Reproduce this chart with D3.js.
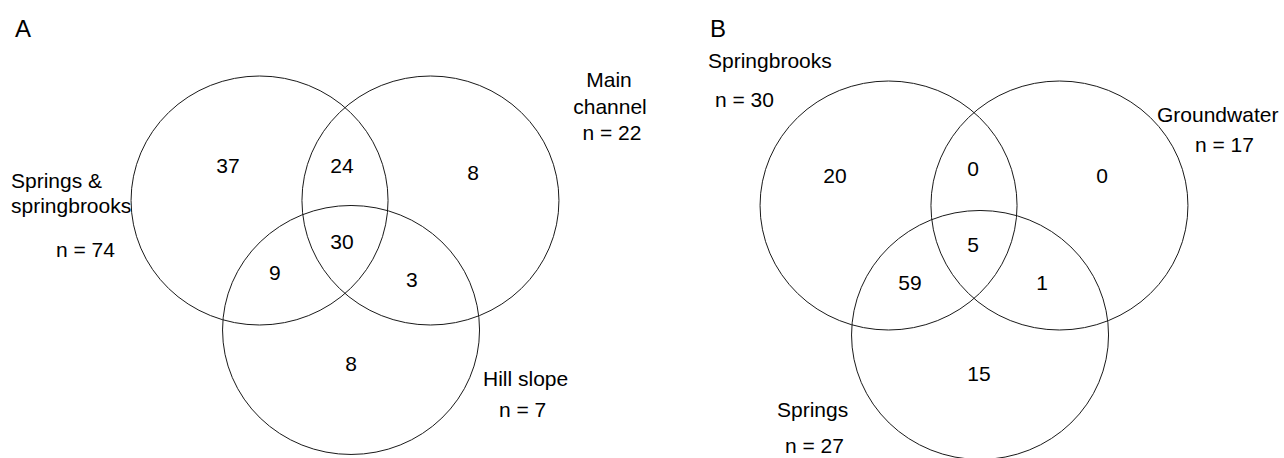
<!DOCTYPE html>
<html>
<head>
<meta charset="utf-8">
<script src="https://cdn.jsdelivr.net/npm/d3@7"></script>
<style>
  html, body { margin: 0; padding: 0; background: #fff; }
  svg { display: block; }
  text { font-family: "Liberation Sans", Arial, sans-serif; fill: #000; }
</style>
</head>
<body>
<svg id="chart" width="1284" height="458"></svg>
<script>
// ---------- data ----------
const panelLetters = ["A", "B"];
// region order: only set1, only set2, only set3, set1&2, set1&3, set2&3, all three
const regionKeys = ["1", "2", "3", "12", "13", "23", "123"];
const countsA = [37, 8, 8, 24, 9, 3, 30];
const countsB = [20, 0, 15, 0, 59, 1, 5];
const setNamesA = [["Springs &", "springbrooks"], ["Main", "channel"], ["Hill slope"]];
const setNamesB = [["Springbrooks"], ["Groundwater"], ["Springs"]];
const setSizesA = [74, 22, 7];
const setSizesB = [30, 17, 27];

// ---------- layout (abstract units, radius = 1) ----------
const circleCenters = [[-0.665, 0], [0.665, 0], [0.047, 1.04]];
const regionPosA = [[-0.911, -0.221], [0.996, -0.165], [0.047, 1.369], [-0.023, -0.221], [-0.545, 0.639], [0.521, 0.695], [-0.023, 0.39]];
const regionPosB = [[-1.082, -0.181], [0.996, -0.181], [0.039, 1.41], [-0.008, -0.237], [-0.498, 0.679], [0.529, 0.679], [-0.008, 0.373]];

const panels = [
  {
    letter: panelLetters[0], letterX: 15,
    cx: 345, cy: 200.5, rx: 128.5, ry: 124.5,
    counts: countsA, regionPos: regionPosA,
    labels: [
      {lines: setNamesA[0], n: setSizesA[0], anchor: "start", xs: [11, 11], ys: [188, 213], nx: 56, ny: 257},
      {lines: setNamesA[1], n: setSizesA[1], anchor: "middle", xs: [609, 610], ys: [87, 114], nx: 612, ny: 140},
      {lines: setNamesA[2], n: setSizesA[2], anchor: "start", xs: [483], ys: [386], nx: 499, ny: 417}
    ]
  },
  {
    letter: panelLetters[1], letterX: 710,
    cx: 974, cy: 205.5, rx: 128.5, ry: 124.5,
    counts: countsB, regionPos: regionPosB,
    labels: [
      {lines: setNamesB[0], n: setSizesB[0], anchor: "start", xs: [708], ys: [68], nx: 715, ny: 107},
      {lines: setNamesB[1], n: setSizesB[1], anchor: "start", xs: [1157], ys: [122], nx: 1195, ny: 152},
      {lines: setNamesB[2], n: setSizesB[2], anchor: "start", xs: [777], ys: [417], nx: 785, ny: 453}
    ]
  }
];

const svg = d3.select("#chart");
const fontSize = 21;

panels.forEach(p => {
  const x = d3.scaleLinear().domain([0, 1]).range([p.cx, p.cx + p.rx]);
  const y = d3.scaleLinear().domain([0, 1]).range([p.cy, p.cy + p.ry]);
  const g = svg.append("g");

  g.append("text")
    .attr("x", p.letterX).attr("y", 37)
    .attr("font-size", 24)
    .text(p.letter);

  g.selectAll("ellipse").data(circleCenters).join("ellipse")
    .attr("cx", d => x(d[0]))
    .attr("cy", d => y(d[1]))
    .attr("rx", x(1) - x(0))
    .attr("ry", y(1) - y(0))
    .attr("fill", "none")
    .attr("stroke", "#1a1a1a")
    .attr("stroke-width", 1);

  g.selectAll("text.count").data(p.counts).join("text")
    .attr("class", "count")
    .attr("x", (d, i) => x(p.regionPos[i][0]))
    .attr("y", (d, i) => y(p.regionPos[i][1]))
    .attr("text-anchor", "middle")
    .attr("font-size", fontSize)
    .text(d => d);

  p.labels.forEach(l => {
    l.lines.forEach((line, i) => {
      g.append("text")
        .attr("x", l.xs[i]).attr("y", l.ys[i])
        .attr("text-anchor", l.anchor)
        .attr("font-size", fontSize)
        .text(line);
    });
    g.append("text")
      .attr("x", l.nx).attr("y", l.ny)
      .attr("text-anchor", l.anchor === "middle" ? "middle" : "start")
      .attr("font-size", fontSize)
      .text("n = " + l.n);
  });
});
</script>
</body>
</html>
